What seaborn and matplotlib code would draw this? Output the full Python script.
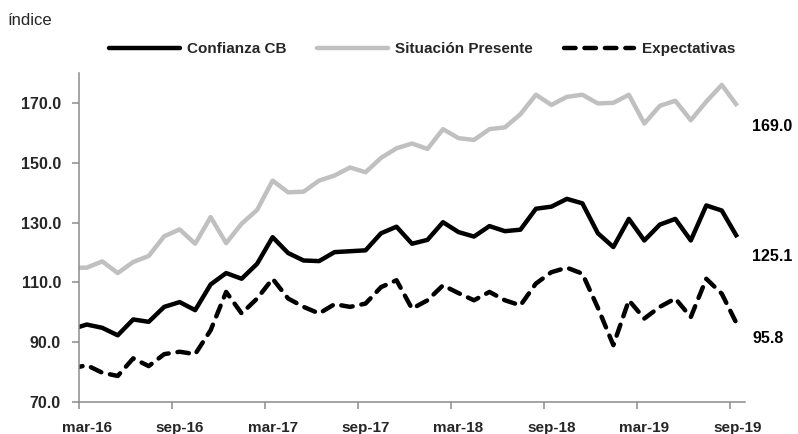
import matplotlib
matplotlib.use("Agg")
import matplotlib.pyplot as plt
import matplotlib.transforms as mtransforms
from matplotlib.ticker import FixedLocator, FixedFormatter, NullFormatter
from matplotlib.lines import Line2D
import seaborn as sns
import numpy as np
import pandas as pd

# ---------------- data ----------------
meses_abrev = ['ene', 'feb', 'mar', 'abr', 'may', 'jun', 'jul', 'ago', 'sep', 'oct', 'nov', 'dic']
months = [f"{meses_abrev[d.month - 1]}-{d.year % 100:02d}"
          for d in pd.date_range('2016-02-01', '2019-09-01', freq='MS')]

confianza = [94.3,
             95.9, 94.8, 92.3, 97.6, 96.8, 101.8, 103.4, 100.7, 109.3, 113.1,
             111.2, 116.2, 125.1, 119.8, 117.3, 117.1, 120.1, 120.4, 120.7, 126.4,
             128.6, 122.9, 124.2, 130.1, 126.8, 125.3, 128.8, 127.1, 127.6, 134.6,
             135.3, 137.9, 136.4, 126.4, 121.8, 131.2, 124.0, 129.3, 131.2, 124.0,
             135.7, 134.0, 125.1]
presente = [114.9,
            114.9, 117.0, 113.1, 116.8, 118.8, 125.4, 127.7, 122.9, 131.8, 123.1,
            129.6, 134.2, 144.0, 140.1, 140.3, 144.0, 145.7, 148.4, 146.8, 151.6,
            154.8, 156.4, 154.6, 161.2, 158.2, 157.6, 161.2, 161.8, 166.2, 172.7,
            169.3, 172.0, 172.7, 169.8, 170.0, 172.7, 163.1, 169.0, 170.7, 164.2,
            170.4, 176.0, 169.0]
expectativas = [81.2,
                82.3, 79.8, 78.7, 84.6, 82.0, 86.0, 86.8, 86.0, 94.0, 106.8,
                99.6, 104.6, 111.2, 104.6, 101.8, 99.6, 102.7, 101.8, 102.9, 108.4,
                110.7, 101.2, 104.0, 109.0, 106.4, 104.0, 106.8, 104.0, 102.3, 109.6,
                113.4, 114.9, 112.9, 101.5, 89.0, 104.0, 97.9, 101.8, 104.6, 98.4,
                111.2, 106.2, 95.8]

tick_labels = ['mar-16', 'sep-16', 'mar-17', 'sep-17', 'mar-18', 'sep-18', 'mar-19', 'sep-19']
y_ticks = [70, 90, 110, 130, 150, 170]
series_names = ['Confianza CB', 'Situación Presente', 'Expectativas']

# ---------------- style ----------------
sns.set_theme(style="white")
plt.rcParams['font.family'] = ['Liberation Sans', 'DejaVu Sans']

first = months.index('mar-16')
pos = np.arange(len(months)) - first
df = pd.DataFrame({'mes': months, 'pos': pos,
                   'confianza': confianza, 'presente': presente,
                   'expectativas': expectativas})

fig, ax = plt.subplots(figsize=(7.98, 4.34), dpi=100)
fig.subplots_adjust(left=0.099, right=0.9336, bottom=0.0737, top=0.832)

GRAY = '#c0c0c0'
LW = 3.2
DASH = [2.6, 2.0]
sns.lineplot(data=df, x='pos', y='presente', color=GRAY, lw=LW, ax=ax,
             solid_joinstyle='round', solid_capstyle='butt')
sns.lineplot(data=df, x='pos', y='expectativas', color='black', lw=LW, ax=ax,
             dash_capstyle='round', dash_joinstyle='round')
ax.lines[-1].set_dashes(DASH)
sns.lineplot(data=df, x='pos', y='confianza', color='black', lw=LW, ax=ax,
             solid_joinstyle='round', solid_capstyle='butt')

# ---------------- axes ----------------
ax.set_xlim(-0.5, pos[-1] + 0.5)
ax.set_ylim(70, 180)
ax.set_xlabel('')
ax.set_ylabel('')

label_pos = [pos[months.index(m)] for m in tick_labels]
ax.xaxis.set_major_locator(FixedLocator([p - 0.5 for p in label_pos]))
ax.xaxis.set_major_formatter(NullFormatter())
ax.xaxis.set_minor_locator(FixedLocator(label_pos))
ax.xaxis.set_minor_formatter(FixedFormatter(tick_labels))
ax.tick_params(axis='x', which='major', length=5, width=1.1, color='#8c8c8c',
               direction='out', bottom=True)
ax.tick_params(axis='x', which='minor', length=0, pad=14, labelsize=11, bottom=True)

ax.set_yticks(y_ticks)
ax.set_yticklabels([f"{v:.1f}" for v in y_ticks])
ax.tick_params(axis='y', length=5, width=1.1, color='#8c8c8c', direction='out',
               left=True, pad=8, labelsize=11.5)
for lab in ax.get_xticklabels(minor=True) + ax.get_yticklabels():
    lab.set_fontweight('bold')

for s in ['top', 'right']:
    ax.spines[s].set_visible(False)
for s in ['left', 'bottom']:
    ax.spines[s].set_color('#8c8c8c')
    ax.spines[s].set_linewidth(1.1)

# end labels
trans = mtransforms.blended_transform_factory(ax.transAxes, ax.transData)
end_vals = [presente[-1], confianza[-1], expectativas[-1]]
end_offsets = [-6.8, -6.4, -4.7]
for v, off in zip(end_vals, end_offsets):
    ax.text(1.0105, v + off, f"{v:.1f}", transform=trans, ha='left', va='center',
            fontsize=11.5, fontweight='bold', color='black')

# legend
h1 = Line2D([], [], color='black', lw=LW, solid_capstyle='round')
h2 = Line2D([], [], color=GRAY, lw=LW, solid_capstyle='round')
h3 = Line2D([], [], color='black', lw=LW, dashes=DASH, dash_capstyle='round')
fig.legend([h1, h2, h3], series_names, loc='center', bbox_to_anchor=(0.529, 1 - 49 / 434),
           ncol=3, frameon=False, prop={'weight': 'bold', 'size': 11},
           handlelength=4.6, handletextpad=0.5, columnspacing=2.0)

# texts
fig.text(8 / 798, 1 - 25 / 434, 'índice', fontsize=12, va='baseline', ha='left')
fig.text(10 / 798, 1.0,
         'Gráfico: Índices de confianza del consumidor de la Conference Board',
         fontsize=12, va='baseline', ha='left', color='#aaaaaa')

fig.savefig('out.png', dpi=100)
